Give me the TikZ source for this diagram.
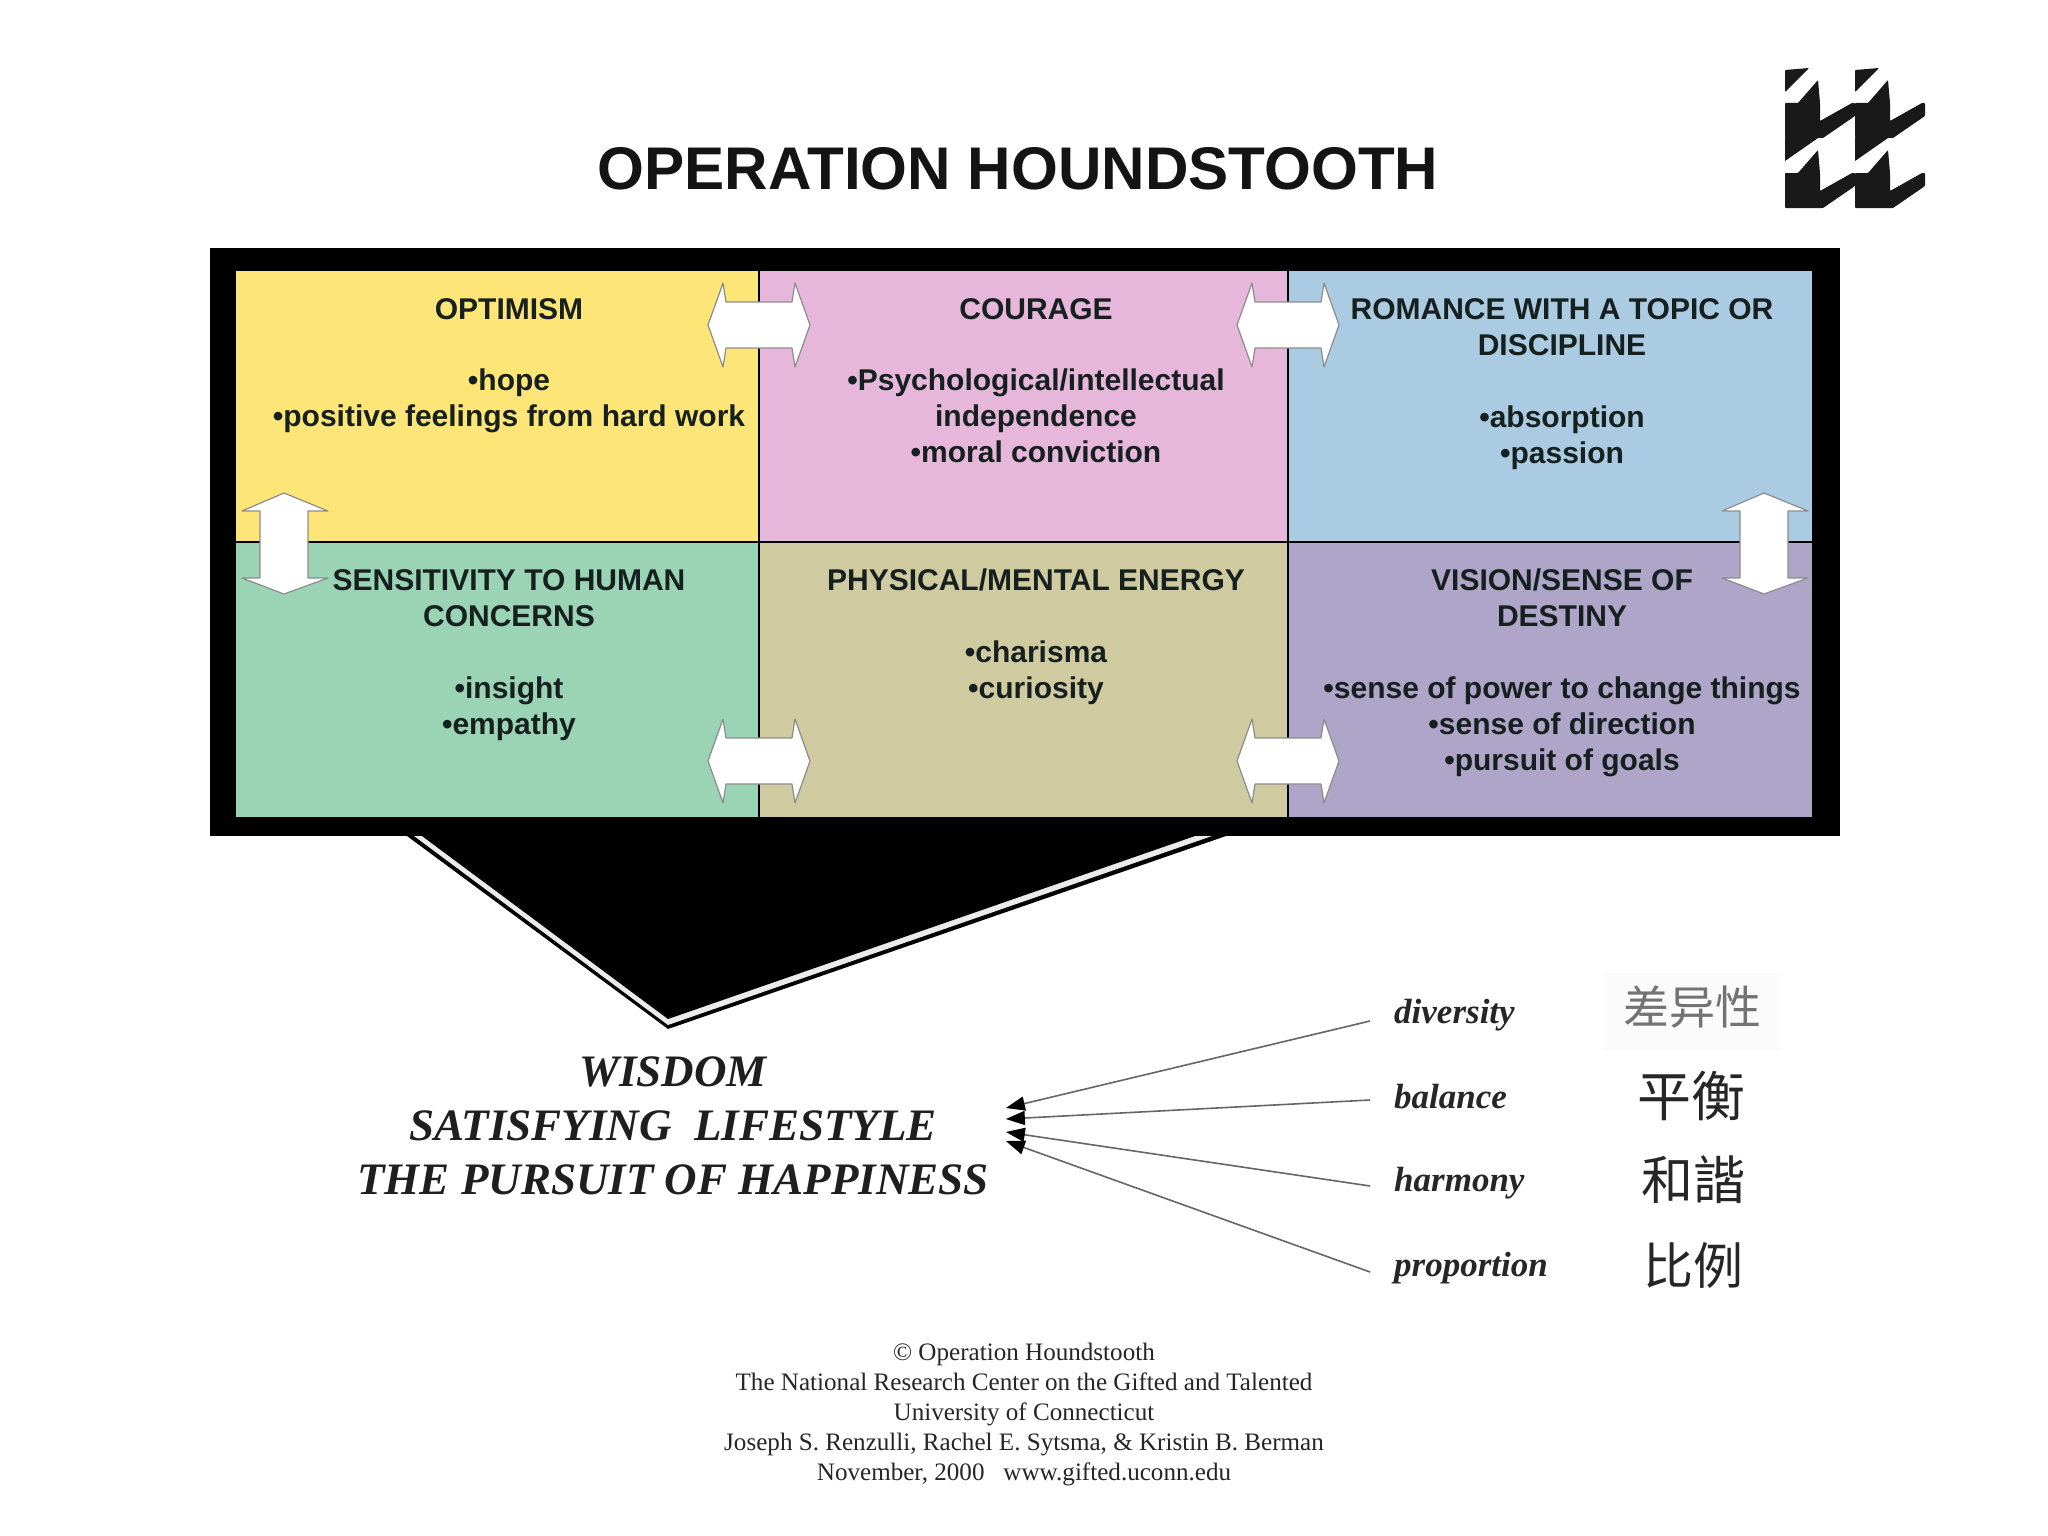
\documentclass[tikz,border=0pt]{standalone}
\usepackage{fontspec}
\setmainfont{Liberation Sans}
\newfontfamily\seriffam{Liberation Serif}
\newfontfamily\cjkfam{Noto Sans CJK SC}
\usetikzlibrary{arrows.meta}
\definecolor{cyellow}{HTML}{FDE577}
\definecolor{cpink}{HTML}{E6B7DA}
\definecolor{cblue}{HTML}{ABCBE3}
\definecolor{cgreen}{HTML}{9AD4B5}
\definecolor{ctan}{HTML}{CFCAA0}
\definecolor{cpurple}{HTML}{AEA5C9}
\definecolor{inkc}{HTML}{16201F}
\tikzset{
 x=1pt,y=-1pt,
 cell/.style={draw=black,line width=2pt,anchor=north west,inner sep=0pt,outer sep=0pt},
 celltext/.style={anchor=north,align=center,inner sep=0pt,text=inkc,font=\fontsize{30}{36}\selectfont\bfseries},
 lab/.style={anchor=west,inner sep=0pt,inner xsep=24pt,font=\fontsize{35}{40}\selectfont\seriffam\bfseries\itshape,text=black!85},
 cjk/.style={inner sep=0pt,font=\fontsize{50}{56}\selectfont\cjkfam,text=black!85},
 feed/.style={draw=black!60,line width=1.6pt,-{Triangle[length=19pt,width=14pt,fill=black,color=black]}},
 hdbl/.pic={\draw[fill=white,draw=black!45,line width=1.2pt,line join=round]
   (-51,0)--(-36,-42)--(-33,-23)--(33,-23)--(36,-42)--(51,0)--(36,42)--(33,23)--(-33,23)--(-36,42)--cycle;},
 vdbl/.pic={\draw[fill=white,draw=black!45,line width=1.2pt,line join=round]
   (0,-50)--(44,-32)--(24,-32)--(24,35)--(44,35)--(0,51)--(-42,35)--(-24,35)--(-24,-32)--(-42,-32)--cycle;},
 houndtile/.pic={\fill[black!90,rounded corners=0.8pt]
   (0,0)--(13,0)--(33,-23)--(35,0)--(35,18)--(67,0)--(70,0)--(70,13)--(38,35)--(0,35)--cycle;},
}
\begin{document}
\begin{tikzpicture}
\useasboundingbox (0,0) rectangle (2048,1536);
\fill[white] (0,0) rectangle (2048,1536);
% title
\node[inner sep=0pt,font=\fontsize{60.2}{70}\selectfont\bfseries,text=black!92] (title) at (1018,169) {OPERATION HOUNDSTOOTH};
% logo
\foreach \lx in {1785,1855}{\foreach \ly in {103,173}{\pic at (\lx,\ly) {houndtile};}}
\fill[black!90,rounded corners=0.8pt] (1785,70)--(1809,68)--(1785,92)--cycle;
\fill[black!90,rounded corners=0.8pt] (1855,70)--(1879,68)--(1855,92)--cycle;
\fill[black!90] (1785,138)--(1818,138)--(1785,161)--cycle;
\fill[black!90] (1855,138)--(1888,138)--(1855,161)--cycle;
% funnel and frame
\fill[black] (407,836)--(1226,836)--(668,1029)--cycle;
\fill[white!92!black] (414,836)--(1212,836)--(668,1025)--cycle;
\fill[black] (422,836)--(1195,836)--(668,1019)--cycle;
\node[fill=black,anchor=north west,inner sep=0pt,minimum width=1630pt,minimum height=588pt] (frame) at (210,248) {};
% cells
\node[cell,fill=cyellow,minimum width=524pt,minimum height=272pt] (c11) at (235,270) {};
\node[cell,fill=cpink,minimum width=529pt,minimum height=272pt] (c12) at (759,270) {};
\node[cell,fill=cblue,minimum width=525pt,minimum height=272pt] (c13) at (1288,270) {};
\node[cell,fill=cgreen,minimum width=524pt,minimum height=276pt] (c21) at (235,542) {};
\node[cell,fill=ctan,minimum width=529pt,minimum height=276pt] (c22) at (759,542) {};
\node[cell,fill=cpurple,minimum width=525pt,minimum height=276pt] (c23) at (1288,542) {};
% texts
\node[celltext] (t11) at (509,294) {\strut OPTIMISM\\[35pt]•hope\\•positive feelings from hard work};
\node[celltext] (t12) at (1036,294) {\strut COURAGE\\[35pt]•Psychological/intellectual\\independence\\•moral conviction};
\node[celltext] (t13) at (1562,294) {\strut ROMANCE WITH A TOPIC OR\\DISCIPLINE\\[36pt]•absorption\\•passion};
\node[celltext] (t21) at (509,565) {\strut SENSITIVITY TO HUMAN\\CONCERNS\\[36pt]•insight\\•empathy};
\node[celltext] (t22) at (1036,565) {\strut PHYSICAL/MENTAL ENERGY\\[36pt]•charisma\\•curiosity};
\node[celltext] (t23) at (1562,565) {\strut VISION/SENSE OF\\DESTINY\\[36pt]•sense of power to change things\\•sense of direction\\•pursuit of goals};
% double arrows
\pic at (759,325) {hdbl};
\pic at (1288,325) {hdbl};
\pic at (759,761) {hdbl};
\pic at (1288,761) {hdbl};
\pic at (284,543) {vdbl};
\pic at (1764,543) {vdbl};
% wisdom
\node[align=center,inner sep=0pt,inner xsep=17pt,font=\fontsize{45}{54}\selectfont\seriffam\bfseries\itshape,text=black!88] (wisdom) at (673,1126)
 {WISDOM\\SATISFYING\ \ LIFESTYLE\\THE PURSUIT OF HAPPINESS};
% labels
\node[lab] (ldiv) at (1370,1015) {diversity};
\node[lab] (lbal) at (1370,1097) {balance};
\node[lab] (lhar) at (1370,1183) {harmony};
\node[lab] (lpro) at (1370,1268) {proportion};
\draw[feed] ([yshift=-6pt]ldiv.west) -- ([yshift=18pt]wisdom.east);
\draw[feed] ([yshift=-3pt]lbal.west) -- ([yshift=7pt]wisdom.east);
\draw[feed] ([yshift=-3pt]lhar.west) -- ([yshift=-6pt]wisdom.east);
\draw[feed] ([yshift=-4pt]lpro.west) -- ([yshift=-15pt]wisdom.east);
% CJK
\node[fill=black!1.5,inner sep=0pt,minimum width=176pt,minimum height=77pt] (z0) at (1692,1011) {};
\node[cjk,font=\fontsize{46}{52}\selectfont\cjkfam,text=black!55] (z1) at (1692,1007) {差异性};
\node[cjk,font=\fontsize{54}{60}\selectfont\cjkfam] (z2) at (1691,1096) {平衡};
\node[cjk,font=\fontsize{52}{60}\selectfont\cjkfam] (z3) at (1693,1180) {和諧};
\node[cjk] (z4) at (1693,1266) {比例};
% footer
\node[align=center,inner sep=0pt,font=\fontsize{25.1}{30}\selectfont\seriffam,text=black!85] (foot) at (1024,1414)
 {© Operation Houndstooth\\The National Research Center on the Gifted and Talented\\University of Connecticut\\Joseph S. Renzulli, Rachel E. Sytsma, \& Kristin B. Berman\\November, 2000\ \ \ www.gifted.uconn.edu};
\end{tikzpicture}
\end{document}
